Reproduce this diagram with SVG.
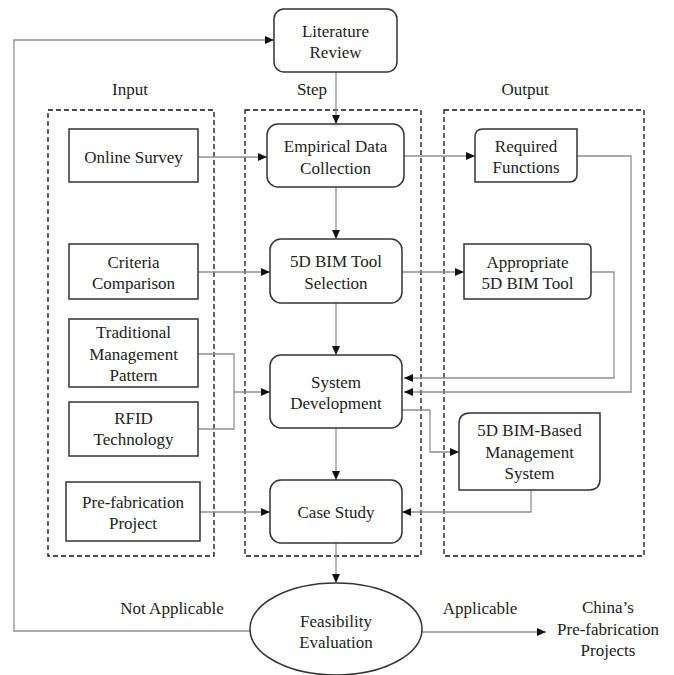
<svg xmlns="http://www.w3.org/2000/svg" width="674" height="675" viewBox="0 0 674 675">
<style>
text{font-family:"Liberation Serif","Times New Roman",serif;font-size:17px;fill:#222;text-anchor:middle}
.box{fill:#fff;stroke:#333;stroke-width:1.5}
.dash{fill:none;stroke:#111;stroke-width:1.3;stroke-dasharray:5 3}
.con{fill:none;stroke:#8f8f8f;stroke-width:1.3;marker-end:url(#ah)}
.lin{fill:none;stroke:#8f8f8f;stroke-width:1.3}
</style>
<defs>
<marker id="ah" markerUnits="userSpaceOnUse" markerWidth="10" markerHeight="10" refX="9" refY="5" orient="auto">
<path d="M0,1 L9,5 L0,9 Z" fill="#111"/>
</marker>
</defs>
<rect x="0" y="0" width="674" height="675" fill="#fff"/>

<g id="labels">
<text x="130" y="95">Input</text>
<text x="312" y="95">Step</text>
<text x="525" y="95">Output</text>
<text x="172" y="614">Not Applicable</text>
<text x="480" y="614">Applicable</text>
</g>

<g id="groups">
<rect class="dash" x="48" y="110" width="166" height="446"/>
<rect class="dash" x="245" y="110" width="176" height="446"/>
<rect class="dash" x="444" y="110" width="200" height="446"/>
</g>

<g id="connectors">
<path class="con" d="M250,631 H14 V40 H274"/>
<path class="con" d="M336,72 V124"/>
<path class="con" d="M198,157 H267"/>
<path class="con" d="M404,156 H475"/>
<path class="con" d="M577,156 H631 V392 H404"/>
<path class="con" d="M336,187 V239"/>
<path class="con" d="M198,272 H270"/>
<path class="con" d="M402,272 H464"/>
<path class="con" d="M591,272 H614 V378 H404"/>
<path class="con" d="M336,303 V355"/>
<path class="lin" d="M198,354 H234 V429 H198"/>
<path class="con" d="M234,392 H270"/>
<path class="con" d="M402,410 H430 V452 H459"/>
<path class="con" d="M336,428 V480"/>
<path class="con" d="M200,512 H270"/>
<path class="con" d="M531,490 V512 H402"/>
<path class="con" d="M336,543 V583"/>
<path class="con" d="M422,632 H546"/>
</g>

<g id="literature-review">
<rect class="box" x="274" y="9" width="123" height="63" rx="10"/>
<text x="335.5" y="37">Literature</text>
<text x="335.5" y="58">Review</text>
</g>

<g id="online-survey">
<rect class="box" x="69" y="129" width="129" height="53"/>
<text x="133.5" y="163">Online Survey</text>
</g>

<g id="empirical-data-collection">
<rect class="box" x="267" y="124" width="137" height="63" rx="11"/>
<text x="335.5" y="152">Empirical Data</text>
<text x="335.5" y="174">Collection</text>
</g>

<g id="required-functions">
<path class="box" d="M483,129 H577 V174 Q577,182 569,182 H475 V137 Q475,129 483,129 Z"/>
<text x="526" y="152">Required</text>
<text x="526" y="173">Functions</text>
</g>

<g id="criteria-comparison">
<rect class="box" x="69" y="244" width="129" height="55"/>
<text x="133.5" y="268">Criteria</text>
<text x="133.5" y="289">Comparison</text>
</g>

<g id="bim-tool-selection">
<rect class="box" x="270" y="239" width="132" height="64" rx="11"/>
<text x="336" y="267">5D BIM Tool</text>
<text x="336" y="289">Selection</text>
</g>

<g id="appropriate-tool">
<path class="box" d="M464,244 H586 Q591,244 591,249 V293 Q591,299 585,299 H464 Z"/>
<text x="527.5" y="268">Appropriate</text>
<text x="527.5" y="289">5D BIM Tool</text>
</g>

<g id="traditional-management-pattern">
<rect class="box" x="69" y="319" width="129" height="68"/>
<text x="133.5" y="338">Traditional</text>
<text x="133.5" y="360">Management</text>
<text x="133.5" y="381">Pattern</text>
</g>

<g id="rfid-technology">
<rect class="box" x="69" y="402" width="129" height="54"/>
<text x="133.5" y="424">RFID</text>
<text x="133.5" y="445">Technology</text>
</g>

<g id="system-development">
<rect class="box" x="270" y="355" width="132" height="73" rx="11"/>
<text x="336" y="388">System</text>
<text x="336" y="409">Development</text>
</g>

<g id="bim-based-management-system">
<path class="box" d="M470,413 H600 V479 Q600,490 589,490 H459 V424 Q459,413 470,413 Z"/>
<text x="529.5" y="436">5D BIM-Based</text>
<text x="529.5" y="458">Management</text>
<text x="529.5" y="479">System</text>
</g>

<g id="prefabrication-project">
<rect class="box" x="66" y="482" width="134" height="59"/>
<text x="133" y="508">Pre-fabrication</text>
<text x="133" y="529">Project</text>
</g>

<g id="case-study">
<rect class="box" x="270" y="480" width="132" height="63" rx="11"/>
<text x="336" y="518">Case Study</text>
</g>

<g id="feasibility-evaluation">
<ellipse class="box" cx="336" cy="629" rx="86" ry="46"/>
<text x="336" y="627">Feasibility</text>
<text x="336" y="648">Evaluation</text>
</g>

<g id="china-projects">
<text x="608" y="613">China’s</text>
<text x="608" y="635">Pre-fabrication</text>
<text x="608" y="656">Projects</text>
</g>
</svg>
